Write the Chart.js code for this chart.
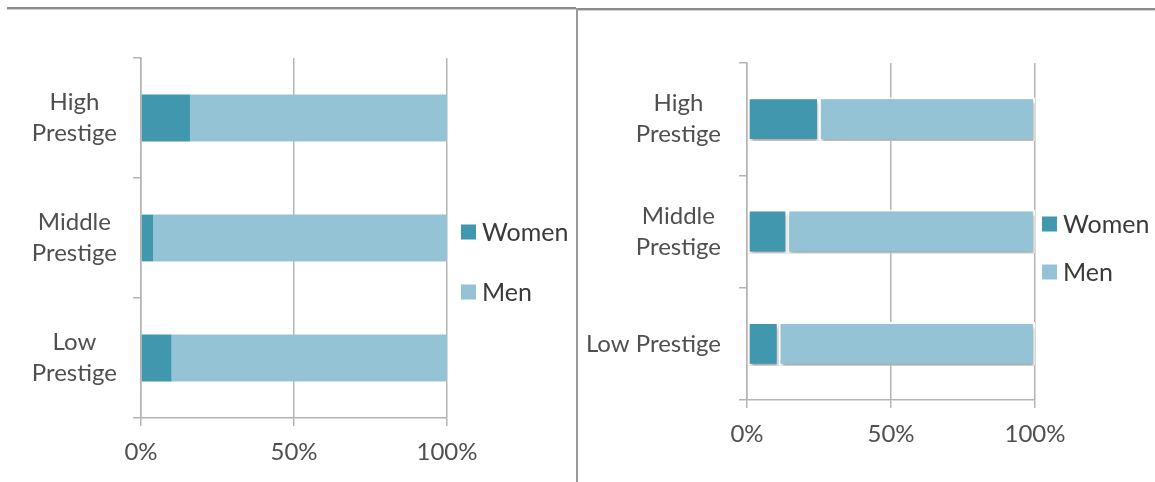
<!DOCTYPE html>
<html>
<head>
<meta charset="utf-8">
<script src="https://cdn.jsdelivr.net/npm/chart.js@4.4.1/dist/chart.umd.min.js"></script>
<style>
  html, body { margin: 0; padding: 0; background: #fff; }
  #wrap { position: relative; width: 1155px; height: 482px; overflow: hidden; }
  .panel { position: absolute; top: 0; height: 482px; }
  #leftPanel { left: 0; width: 576px; }
  #rightPanel { left: 577px; width: 578px; }
  .rule { position: absolute; }
  #topLeft { left: 7px; top: 7px; width: 569px; height: 2px; background: #8c8c8c; box-shadow: 0 1px 1px #cfcfcf; }
  #topRight { left: 577px; top: 8px; width: 578px; height: 2px; background: #8c8c8c; box-shadow: 0 1px 1px #cfcfcf; }
  #divider { left: 576px; top: 8px; width: 2px; height: 474px; background: #9a9a9a; }
</style>
</head>
<body>
<div id="wrap">
  <div class="panel" id="leftPanel"><canvas id="leftChart" width="576" height="482"></canvas></div>
  <div class="panel" id="rightPanel"><canvas id="rightChart" width="578" height="482"></canvas></div>
  <div class="rule" id="topLeft"></div>
  <div class="rule" id="topRight"></div>
  <div class="rule" id="divider"></div>
</div>
<script>
// Categories (multi-line labels) and series values, in percent
const categories = [['High', 'Prestige'], ['Middle', 'Prestige'], ['Low', 'Prestige']];
const categoriesRight = [['High', 'Prestige'], ['Middle', 'Prestige'], 'Low Prestige'];
const seriesNames = ['Women', 'Men'];

const leftWomen = [16, 4, 10];
const leftMen = [84, 96, 90];

const rightWomen = [25, 14, 11];
const rightMen = [75, 86, 89];

const xTickValues = [0, 50, 100];

const WOMEN_COLOR = '#4197ae';
const MEN_COLOR = '#93c3d4';
const GRID_COLOR = '#b4b4b4';
const TEXT_COLOR = '#4f4f4f';
const FONT_FAMILY = 'Lato, "Open Sans", sans-serif';

Chart.defaults.font.family = FONT_FAMILY;
Chart.defaults.animation = false;

// Category labels: each block right-aligned against the axis, lines centred inside the block
const blockLabels = {
  id: 'blockLabels',
  afterDraw(chart, args, opts) {
    const { ctx } = chart;
    const y = chart.scales.y;
    ctx.save();
    ctx.font = `${opts.size}px ${FONT_FAMILY}`;
    ctx.fillStyle = opts.color;
    ctx.textAlign = 'center';
    ctx.textBaseline = 'middle';
    const right = y.right - opts.gap;
    chart.data.labels.forEach((lab, i) => {
      const lines = Array.isArray(lab) ? lab : [lab];
      const w = Math.max(...lines.map(l => ctx.measureText(l).width));
      const cx = right - w / 2;
      const cy = y.getPixelForTick(i);
      lines.forEach((l, k) => {
        ctx.fillText(l, cx, cy + (k - (lines.length - 1) / 2) * opts.lineHeight);
      });
    });
    ctx.restore();
  }
};

// Legend drawn at a fixed spot to the right of the plot
const sideLegend = {
  id: 'sideLegend',
  afterDraw(chart, args, opts) {
    const { ctx } = chart;
    ctx.save();
    ctx.font = `${opts.size}px ${FONT_FAMILY}`;
    ctx.textBaseline = 'middle';
    ctx.textAlign = 'left';
    chart.data.datasets.forEach((ds, i) => {
      const cy = opts.rows[i];
      ctx.fillStyle = ds.backgroundColor;
      ctx.fillRect(opts.x, cy - opts.box / 2, opts.box, opts.box);
      ctx.fillStyle = opts.color;
      ctx.fillText(ds.label, opts.x + opts.box + 6, cy + 1);
    });
    ctx.restore();
  }
};

// Soft drop shadow under bars
const barShadow = {
  id: 'barShadow',
  beforeDatasetsDraw(chart, args, opts) {
    if (!opts.enabled) return;
    const { ctx } = chart;
    ctx.save();
    ctx.shadowColor = 'rgba(0,0,0,0.35)';
    ctx.shadowBlur = 3;
    ctx.shadowOffsetX = 1;
    ctx.shadowOffsetY = 3;
  },
  afterDatasetsDraw(chart, args, opts) {
    if (!opts.enabled) return;
    chart.ctx.restore();
  }
};

function makeChart(canvasId, labels, women, men, geo) {
  const canvas = document.getElementById(canvasId);
  const W = canvas.width, H = canvas.height;
  return new Chart(canvas, {
    type: 'bar',
    data: {
      labels: labels,
      datasets: [
        { label: seriesNames[0], data: women, backgroundColor: WOMEN_COLOR,
          borderColor: '#ffffff', borderWidth: geo.border, borderSkipped: false },
        { label: seriesNames[1], data: men, backgroundColor: MEN_COLOR,
          borderColor: '#ffffff', borderWidth: geo.border, borderSkipped: false }
      ]
    },
    options: {
      indexAxis: 'y',
      responsive: false,
      maintainAspectRatio: false,
      datasets: { bar: { categoryPercentage: 1, barPercentage: 0.39 } },
      layout: { padding: { top: geo.top, right: W - geo.right, left: 0, bottom: 0 } },
      scales: {
        x: {
          stacked: true,
          min: 0, max: 100,
          afterBuildTicks(scale) { scale.ticks = xTickValues.map(v => ({ value: v })); },
          afterFit(scale) { scale.height = H - geo.bottom; },
          ticks: {
            color: TEXT_COLOR,
            font: { size: 24 },
            padding: geo.xPad,
            callback: v => v + '%',
            maxRotation: 0
          },
          grid: { color: GRID_COLOR, lineWidth: 1.5, tickLength: 8, drawOnChartArea: true },
          border: { color: GRID_COLOR, width: 1.5 }
        },
        y: {
          stacked: true,
          afterFit(scale) { scale.width = geo.left; },
          ticks: { display: false },
          grid: { color: GRID_COLOR, lineWidth: 1.5, tickLength: 8, drawOnChartArea: false, offset: true },
          border: { color: GRID_COLOR, width: 1.5 }
        }
      },
      plugins: {
        legend: { display: false },
        tooltip: { enabled: false },
        blockLabels: { size: 24, color: TEXT_COLOR, gap: geo.labelGap, lineHeight: 31 },
        sideLegend: { size: 25, color: '#3a3a3a', x: geo.legendX, rows: geo.legendRows, box: 15 },
        barShadow: { enabled: geo.shadow }
      }
    },
    plugins: [barShadow, blockLabels, sideLegend]
  });
}

makeChart('leftChart', categories, leftWomen, leftMen, {
  left: 141, right: 447, top: 58, bottom: 418,
  xPad: 12, labelGap: 24, border: 0, shadow: false,
  legendX: 461, legendRows: [232, 292]
});

makeChart('rightChart', categoriesRight, rightWomen, rightMen, {
  left: 170, right: 458, top: 63, bottom: 400,
  xPad: 12, labelGap: 26, border: 2, shadow: true,
  legendX: 465, legendRows: [224, 272]
});
</script>
</body>
</html>
